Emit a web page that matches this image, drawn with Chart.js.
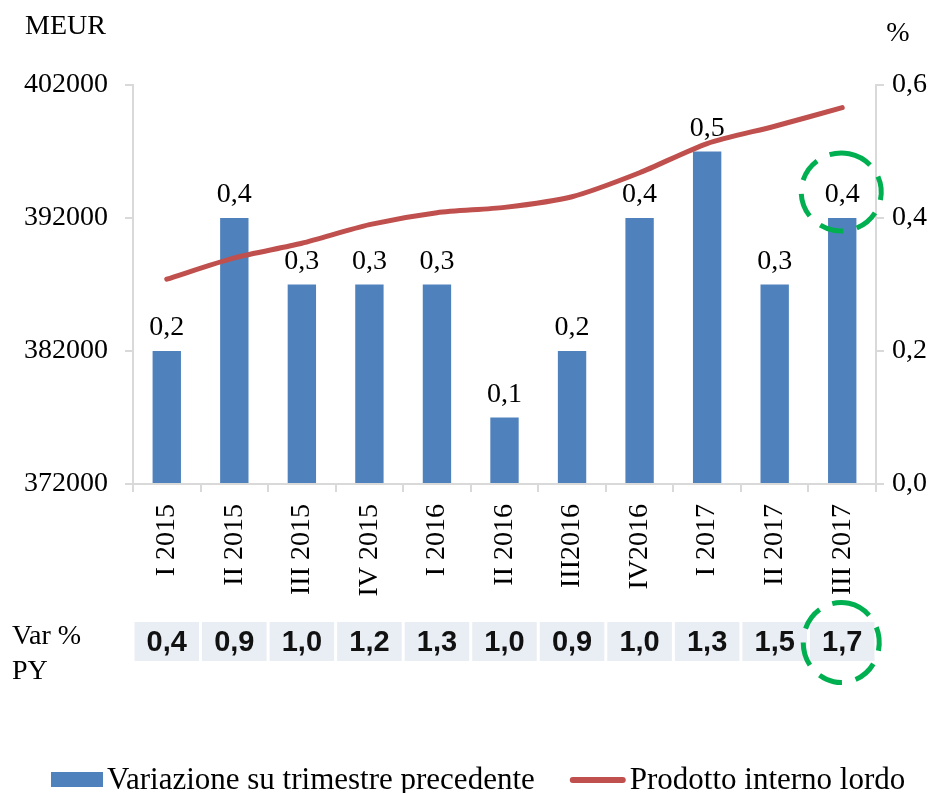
<!DOCTYPE html>
<html>
<head>
<meta charset="utf-8">
<script src="https://cdn.jsdelivr.net/npm/chart.js@4/dist/chart.umd.min.js"></script>
<style>
  html, body { margin: 0; padding: 0; background: #fff; }
</style>
</head>
<body>
<canvas id="chart" width="942" height="793"></canvas>
<script>
const quarters = ["I 2015", "II 2015", "III 2015", "IV 2015", "I 2016", "II 2016", "III2016", "IV2016", "I 2017", "II 2017", "III 2017"];
const quarterChange = [0.2, 0.4, 0.3, 0.3, 0.3, 0.1, 0.2, 0.4, 0.5, 0.3, 0.4];
const gdp = [387400, 389000, 390100, 391500, 392400, 392800, 393600, 395400, 397600, 398900, 400300];
const yearChange = [0.4, 0.9, 1.0, 1.2, 1.3, 1.0, 0.9, 1.0, 1.3, 1.5, 1.7];
const gdpTicks = [372000, 382000, 392000, 402000];
const pctTicks = [0, 0.2, 0.4, 0.6];

const SERIF = "'Liberation Serif', 'Times New Roman', serif";
const BLUE = "#4F81BD";
const RED = "#C0504D";
const GREEN = "#00B050";
const AXIS = "#d9d9d9";

Chart.defaults.font.family = SERIF;
Chart.defaults.color = "#000";

function comma(v) {
  return v.toFixed(1).replace(".", ",");
}

function dashedRing(ctx, x, y, rx, ry) {
  ctx.save();
  ctx.strokeStyle = GREEN;
  ctx.lineWidth = 5;
  ctx.setLineDash([24, 14]);
  ctx.beginPath();
  ctx.ellipse(x, y, rx, ry, 0, -Math.PI / 2 + 0.2, Math.PI * 1.5 + 0.2);
  ctx.stroke();
  ctx.restore();
}

// bar labels, axis titles, the "Var % PY" row, the green rings and the legend
const extras = {
  id: "extras",
  afterDatasetsDraw(chart) {
    const { ctx, chartArea } = chart;
    const xScale = chart.scales.x;
    const bars = chart.getDatasetMeta(0).data;
    const ds = chart.data.datasets;

    ctx.save();
    ctx.font = "28px " + SERIF;
    ctx.fillStyle = "#000";
    ctx.textAlign = "center";
    ctx.textBaseline = "alphabetic";
    bars.forEach((bar, i) => {
      ctx.fillText(comma(quarterChange[i]), bar.x, bar.y - 16);
    });

    ctx.textBaseline = "middle";
    ctx.textAlign = "left";
    ctx.fillText("MEUR", 25, 27);
    ctx.textAlign = "center";
    ctx.fillText("%", 898, 34);

    // previous-year row
    const step = xScale.width / quarters.length;
    const rowTop = chartArea.bottom + 138;
    const rowH = 39;
    ctx.textAlign = "left";
    ctx.fillText("Var %", 12, rowTop + 15);
    ctx.fillText("PY", 12, rowTop + 50);
    ctx.font = "bold 29px 'Liberation Sans', Arial, sans-serif";
    ctx.textAlign = "center";
    yearChange.forEach((v, i) => {
      const cx = xScale.getPixelForValue(i);
      ctx.fillStyle = "#E9EDF4";
      ctx.fillRect(cx - step / 2 + 1.5, rowTop, step - 3, rowH);
      ctx.fillStyle = "#111";
      ctx.fillText(comma(v), cx, rowTop + rowH / 2 + 1);
    });

    // legend
    const legendY = 780;
    ctx.font = "31px " + SERIF;
    ctx.textAlign = "left";
    ctx.textBaseline = "alphabetic";
    let lx = 51;
    ctx.fillStyle = ds[0].backgroundColor;
    ctx.fillRect(lx, legendY - 8, 52, 15);
    lx += 56;
    ctx.fillStyle = "#000";
    ctx.fillText(ds[0].label, lx, legendY + 9);
    lx += ctx.measureText(ds[0].label).width + 38;
    ctx.strokeStyle = ds[1].borderColor;
    ctx.lineWidth = 6;
    ctx.lineCap = "round";
    ctx.beginPath();
    ctx.moveTo(lx, legendY);
    ctx.lineTo(lx + 50, legendY);
    ctx.stroke();
    lx += 57;
    ctx.fillText(ds[1].label, lx, legendY + 9);
    ctx.restore();

    const last = quarters.length - 1;
    const lastBar = bars[last];
    dashedRing(ctx, lastBar.x - 1, lastBar.y - 26, 40, 39);
    dashedRing(ctx, xScale.getPixelForValue(last) - 1, rowTop + rowH / 2 + 1, 38, 40);
  }
};

new Chart(document.getElementById("chart"), {
  data: {
    labels: quarters,
    datasets: [
      {
        type: "bar",
        label: "Variazione su trimestre precedente",
        data: quarterChange,
        yAxisID: "y1",
        backgroundColor: BLUE,
        barPercentage: 0.42,
        categoryPercentage: 1,
        order: 2,
      },
      {
        type: "line",
        label: "Prodotto interno lordo",
        data: gdp,
        yAxisID: "y",
        borderColor: RED,
        backgroundColor: RED,
        borderWidth: 5,
        borderCapStyle: "round",
        tension: 0.25,
        pointRadius: 0,
        order: 1,
      },
    ],
  },
  options: {
    responsive: false,
    animation: false,
    layout: { padding: { top: 85, left: 0, right: 0, bottom: 0 } },
    plugins: {
      tooltip: { enabled: false },
      legend: { display: false },
    },
    scales: {
      x: {
        offset: true,
        grid: { offset: true, drawOnChartArea: false, color: AXIS, tickLength: 8, lineWidth: 2 },
        border: { color: AXIS, width: 2 },
        ticks: { font: { size: 28 }, minRotation: 90, maxRotation: 90, padding: 12, autoSkip: false },
        afterFit: (scale) => { scale.height = 309; },
      },
      y: {
        position: "left",
        min: gdpTicks[0],
        max: gdpTicks[gdpTicks.length - 1],
        afterBuildTicks: (scale) => { scale.ticks = gdpTicks.map((v) => ({ value: v })); },
        grid: { drawOnChartArea: false, color: AXIS, tickLength: 8, lineWidth: 2 },
        border: { color: AXIS, width: 2 },
        ticks: { font: { size: 28 }, padding: 17, callback: (v) => String(v) },
        afterFit: (scale) => { scale.width = 133; },
      },
      y1: {
        position: "right",
        min: pctTicks[0],
        max: pctTicks[pctTicks.length - 1],
        afterBuildTicks: (scale) => { scale.ticks = pctTicks.map((v) => ({ value: v })); },
        grid: { drawOnChartArea: false, color: AXIS, tickLength: 8, lineWidth: 2 },
        border: { color: AXIS, width: 2 },
        ticks: { font: { size: 28 }, padding: 8, callback: (v) => comma(v) },
        afterFit: (scale) => { scale.width = 66; },
      },
    },
  },
  plugins: [extras],
});
</script>
</body>
</html>
